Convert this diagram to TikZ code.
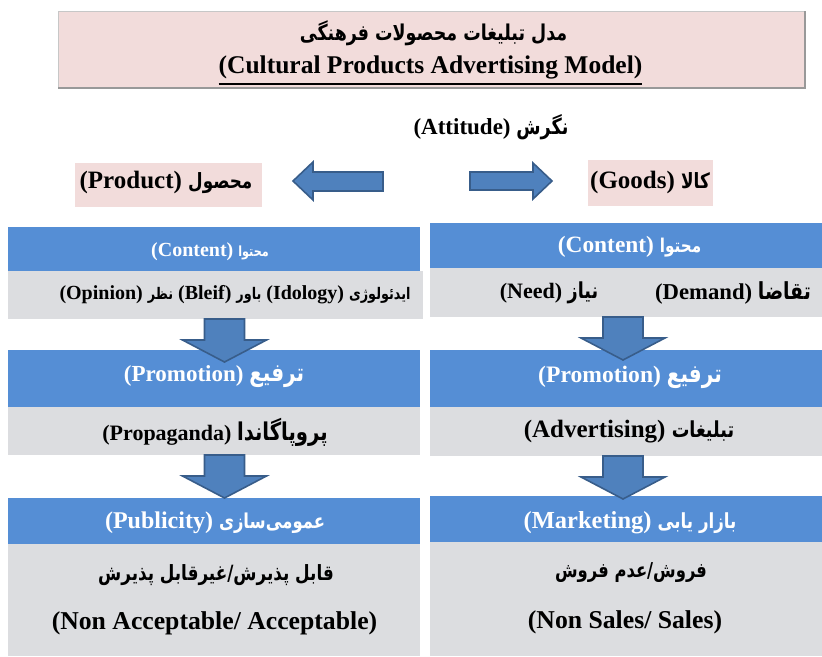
\documentclass[tikz,border=0pt]{standalone}
\usepackage{fontspec}
\setmainfont{Liberation Serif}
\newfontfamily\arfont[Script=Arabic,FakeStretch=0.8]{DejaVu Sans}
\TeXXeTstate=1
\usetikzlibrary{calc}
\definecolor{hdrblue}{HTML}{558ED5}
\definecolor{bodygray}{HTML}{DCDDE0}
\definecolor{pinkbg}{HTML}{F2DCDB}
\definecolor{arrfill}{HTML}{4F81BD}
\definecolor{arrline}{HTML}{385D8A}
\newcommand\fsz[1]{\fontsize{#1}{#1}\selectfont}
\newcommand\fa[1]{\fsz{#1}\arfont}
\newcommand\dnarrow[2]{%
  \coordinate (ac) at (#1,0);
  \filldraw[blockarrow] ($(ac |- #2.south)+(-20,0)$) -- ($(ac |- #2.south)+(20,0)$)
    -- ($(ac |- #2.south)+(20,21)$) -- ($(ac |- #2.south)+(42,21)$)
    -- ($(ac |- #2.south)+(0,43)$) -- ($(ac |- #2.south)+(-42,21)$)
    -- ($(ac |- #2.south)+(-20,21)$) -- cycle;}
\begin{document}
\begin{tikzpicture}[x=1pt,y=-1pt,
  box/.style={inner sep=0pt,outer sep=0pt,anchor=north west},
  bluebox/.style={box,fill=hdrblue},
  graybox/.style={box,fill=bodygray},
  pinkbox/.style={box,fill=pinkbg},
  lbl/.style={inner sep=0pt,outer sep=0pt},
  wlbl/.style={lbl,text=white},
  blockarrow/.style={fill=arrfill,draw=arrline,line width=1.6pt,line join=miter}]
\useasboundingbox (0,0) rectangle (822,656);
\fill[white] (0,0) rectangle (822,656);

% title
\node[box,fill=pinkbg,draw=black!22,line width=0.8pt,minimum width=747pt,minimum height=77pt] (ttl) at (58,11) {};
\draw[black!40,line width=1.5pt] (ttl.north east) -- (ttl.south east) -- (ttl.south west);
\node[lbl,anchor=base,font=\bfseries] (ttlFa) at (433.5,40) {{\fa{21.8}\beginR مدل تبلیغات محصولات فرهنگی\endR}};
\node[lbl,anchor=base,font=\bfseries\fsz{25.5}] (ttlEn) at (430.5,73) {(Cultural Products Advertising Model)};
\draw[line width=2.4pt] ($(ttlEn.base west)+(0,11)$) -- ($(ttlEn.base east)+(0,11)$);

% attitude row
\node[lbl,font=\bfseries\fsz{23}] (att) at (491,127) {(Attitude) {\fa{22}\beginR نگرش\endR}};
\node[pinkbox,minimum width=187pt,minimum height=44pt] (prod) at (75,163) {};
\node[lbl,font=\bfseries\fsz{25}] (prodT) at (166,182) {(Product) {\fa{21}\beginR محصول\endR}};
\node[pinkbox,minimum width=125pt,minimum height=46pt] (goods) at (588,160) {};
\node[lbl,font=\bfseries\fsz{25}] (goodsT) at (650,182) {(Goods) {\fa{21}\beginR کالا\endR}};
\filldraw[blockarrow] (383,172) -- (313,172) -- (313,162) -- (293,181) -- (313,200) -- (313,191) -- (383,191) -- cycle;
\filldraw[blockarrow] (470,172) -- (533,172) -- (533,163) -- (552,181) -- (533,199) -- (533,190) -- (470,190) -- cycle;

% left column
\node[bluebox,minimum width=412pt,minimum height=44pt] (b1L) at (8,227) {};
\node[graybox,minimum width=415pt,minimum height=48pt] (g1L) at (8,271) {};
\node[bluebox,minimum width=412pt,minimum height=57pt] (b2L) at (8,350) {};
\node[graybox,minimum width=412pt,minimum height=48pt] (g2L) at (8,407) {};
\node[bluebox,minimum width=412pt,minimum height=46pt] (b3L) at (8,498) {};
\node[graybox,minimum width=412pt,minimum height=112pt] (g3L) at (8,544) {};

% right column
\node[bluebox,minimum width=392pt,minimum height=45pt] (b1R) at (430,223) {};
\node[graybox,minimum width=392pt,minimum height=49pt] (g1R) at (430,268) {};
\node[bluebox,minimum width=392pt,minimum height=57pt] (b2R) at (430,350) {};
\node[graybox,minimum width=392pt,minimum height=49pt] (g2R) at (430,407) {};
\node[bluebox,minimum width=392pt,minimum height=46pt] (b3R) at (430,496) {};
\node[graybox,minimum width=392pt,minimum height=114pt] (g3R) at (430,542) {};

% down arrows
\dnarrow{224.5}{g1L}
\dnarrow{224.5}{g2L}
\dnarrow{623}{g1R}
\dnarrow{623}{g2R}

% left texts
\node[wlbl,font=\bfseries\fsz{20}] (t1L) at (210,252) {(Content) {\fa{14}\beginR محتوا\endR}};
\node[lbl,font=\bfseries\fsz{20}] (u1L) at (235,295) {(Opinion) {\fa{16}\beginR نظر\endR} (Bleif) {\fa{16}\beginR باور\endR} (Idology) {\fa{16}\beginR ایدئولوژی\endR}};
\node[wlbl,font=\bfseries\fsz{23}] (t2L) at (214,377) {(Promotion) {\fa{25}\beginR ترفیع\endR}};
\node[lbl,font=\bfseries\fsz{22}] (u2L) at (215,432) {(Propaganda) {\fa{24.5}\beginR پروپاگاندا\endR}};
\node[wlbl,font=\bfseries\fsz{24}] (t3L) at (215,523) {(Publicity) {\fa{20.5}\beginR عمومی‌سازی\endR}};
\node[lbl,font=\bfseries] (u3La) at (216,575) {{\fa{21}\beginR قابل پذیرش/غیرقابل پذیرش\endR}};
\node[lbl,font=\bfseries\fsz{25.7}] (u3Lb) at (214.5,623) {(Non Acceptable/ Acceptable)};

% right texts
\node[wlbl,font=\bfseries\fsz{23.4}] (t1R) at (629.5,247) {(Content) {\fa{19}\beginR محتوا\endR}};
\node[lbl,font=\bfseries\fsz{22}] (u1Ra) at (549,293) {(Need) {\fa{22}\beginR نیاز\endR}};
\node[lbl,font=\bfseries\fsz{22.7}] (u1Rb) at (733,293) {(Demand) {\fa{23.5}\beginR تقاضا\endR}};
\node[wlbl,font=\bfseries\fsz{23.6}] (t2R) at (630,377) {(Promotion) {\fa{25}\beginR ترفیع\endR}};
\node[lbl,font=\bfseries\fsz{25}] (u2R) at (629,432) {(Advertising) {\fa{22}\beginR تبلیغات\endR}};
\node[wlbl,font=\bfseries\fsz{24.5}] (t3R) at (630,523) {(Marketing) {\fa{20.8}\beginR بازار یابی\endR}};
\node[lbl,font=\bfseries] (u3Ra) at (631,573) {{\fa{20.5}\beginR فروش/عدم فروش\endR}};
\node[lbl,font=\bfseries\fsz{25.7}] (u3Rb) at (625,622) {(Non Sales/ Sales)};
\end{tikzpicture}
\end{document}
